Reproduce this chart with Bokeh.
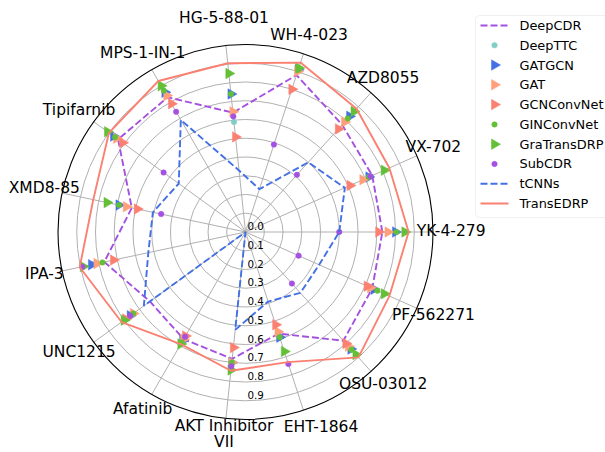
import math
from bokeh.plotting import figure
from bokeh.models import Range1d, BoxAnnotation
from bokeh.core.properties import value
from bokeh.embed import file_html
from bokeh.resources import INLINE

# ---------------- data ----------------
categories = ["YK-4-279", "VX-702", "AZD8055", "WH-4-023", "HG-5-88-01",
              "MPS-1-IN-1", "Tipifarnib", "XMD8-85", "IPA-3", "UNC1215",
              "Afatinib", "AKT Inhibitor\nVII", "EHT-1864", "OSU-03012", "PF-562271"]

deepcdr     = [0.73, 0.74, 0.77, 0.88, 0.64, 0.83, 0.84, 0.62, 0.77, 0.63, 0.66, 0.68, 0.57, 0.78, 0.74]
deepttc     = [0.80, 0.73, 0.82, 0.91, 0.59, 0.85, 0.86, 0.69, 0.83, 0.76, 0.67, 0.71, 0.58, 0.84, 0.75]
gatgcn      = [0.80, 0.72, 0.83, 0.91, 0.74, 0.86, 0.87, 0.69, 0.84, 0.76, 0.67, 0.70, 0.59, 0.84, 0.75]
gat         = [0.76, 0.685, 0.79, 0.90, 0.645, 0.84, 0.85, 0.65, 0.81, 0.74, 0.66, 0.70, 0.56, 0.82, 0.73]
gcnconvnet  = [0.71, 0.61, 0.74, 0.80, 0.51, 0.79, 0.81, 0.59, 0.72, 0.79, 0.64, 0.62, 0.52, 0.80, 0.71]
ginconvnet  = [0.805, 0.72, 0.815, 0.91, 0.74, 0.87, 0.86, 0.69, 0.78, 0.74, 0.68, 0.70, 0.59, 0.845, 0.77]
gratransdrp = [0.85, 0.81, 0.865, 0.92, 0.85, 0.90, 0.91, 0.755, 0.885, 0.80, 0.69, 0.74, 0.67, 0.88, 0.81]
subcdr      = [0.50, 0.73, 0.41, 0.49, 0.62, 0.74, 0.54, 0.46, 0.89, 0.76, 0.645, 0.72, 0.74, 0.37, 0.31]
tcnns       = [0.50, 0.58, 0.50, 0.24, 0.33, 0.69, 0.44, 0.505, 0.53, 0.67, 0.0, 0.525, 0.39, 0.437, 0.43]
transedrp   = [0.87, 0.84, 0.885, 0.95, 0.905, 0.93, 0.90, 0.83, 0.904, 0.817, 0.69, 0.744, 0.73, 0.90, 0.84]

r_ticks = [0.0, 0.1, 0.2, 0.3, 0.4, 0.5, 0.6, 0.7, 0.8, 0.9]
r_max = 1.0

# ---------------- styles ----------------
PURPLE = "#a450e0"
TEAL = "#80cfc6"
BLUE = "#4470e6"
LSALMON = "#ffa07a"
SALMON = "#fa8072"
GREEN = "#62bf36"
GRIDC = "#b0b0b0"
FONT = "DejaVu Sans"

series = [
    ("DeepCDR", deepcdr, "dash", PURPLE),
    ("DeepTTC", deepttc, "dot", TEAL),
    ("GATGCN", gatgcn, "tri", BLUE),
    ("GAT", gat, "tri", LSALMON),
    ("GCNConvNet", gcnconvnet, "tri", SALMON),
    ("GINConvNet", ginconvnet, "dot", GREEN),
    ("GraTransDRP", gratransdrp, "tri", GREEN),
    ("SubCDR", subcdr, "dot", PURPLE),
    ("tCNNs", tcnns, "dash", BLUE),
    ("TransEDRP", transedrp, "solid", SALMON),
]

W, H = 605, 452
S = 187.5            # pixels per radial unit
CX, CY = 245, 231.5  # centre in canvas pixels

p = figure(width=W, height=H, output_backend="svg", toolbar_location=None,
           x_range=Range1d(-CX / S, (W - CX) / S),
           y_range=Range1d(-(H - CY) / S, CY / S),
           x_axis_type=None, y_axis_type=None, min_border=0,
           outline_line_color=None, background_fill_color="white")
p.grid.visible = False

n = len(categories)
angles = [2 * math.pi * i / n for i in range(n)]

# grid rings
ring_r = [t for t in r_ticks if t > 0]
p.circle(x=[0] * len(ring_r), y=[0] * len(ring_r), radius=ring_r,
         fill_color=None, line_color=GRIDC, line_width=1)
# spokes
p.segment(x0=[0] * n, y0=[0] * n,
          x1=[r_max * math.cos(a) for a in angles],
          y1=[r_max * math.sin(a) for a in angles],
          line_color=GRIDC, line_width=1)
# outer circle
p.circle(x=[0], y=[0], radius=[r_max], fill_color=None, line_color="black", line_width=1.1)

# series
for name, vals, kind, col in series:
    xs = [v * math.cos(a) for v, a in zip(vals, angles)]
    ys = [v * math.sin(a) for v, a in zip(vals, angles)]
    if kind in ("dash", "solid"):
        p.line(xs + xs[:1], ys + ys[:1], line_color=col, line_width=1.9,
               line_dash="7 3" if kind == "dash" else "solid")
    elif kind == "tri":
        p.scatter(xs, ys, marker="triangle", size=10.5, angle=-math.pi / 2,
                  fill_color=col, line_color=col, line_width=0.5)
    else:
        p.scatter(xs, ys, marker="circle", size=5.5, fill_color=col, line_color=col, line_width=0.5)

# radial tick labels
p.text(x=[0] * len(r_ticks), y=[-t for t in r_ticks], text=[f"{t:.1f}" for t in r_ticks],
       x_offset=2, y_offset=-6, text_align="left", text_baseline="middle",
       text_font=value(FONT), text_font_size="10.3px", text_color="black")

# category labels (radius 1.097, small pixel nudges for a few labels)
LAB_R = 1.097
nudge = {"HG-5-88-01": (0, -9.5), "EHT-1864": (12, -1), "AKT Inhibitor\nVII": (0, -2.5)}
p.text(x=[LAB_R * math.cos(a) for a in angles],
       y=[LAB_R * math.sin(a) for a in angles],
       x_offset=[nudge.get(c, (0, -1))[0] for c in categories],
       y_offset=[nudge.get(c, (0, -1))[1] for c in categories],
       text=categories, text_align="center", text_baseline="middle",
       text_line_height=0.86,
       text_font=value(FONT), text_font_size="15.5px", text_color="black")

# ---------------- legend (manual) ----------------
def px2x(xr):
    return (xr - CX) / S

def px2y(yr):
    return (CY - yr) / S

box = BoxAnnotation(left=px2x(475), right=px2x(680), top=px2y(15), bottom=px2y(217),
                    fill_color="white", fill_alpha=0.8, line_color="#cccccc",
                    line_width=1, border_radius=4, level="underlay")
p.add_layout(box)

row_y = [px2y(25 + 19.78 * i) for i in range(len(series))]
gx0, gx1, gxm, tx = px2x(480), px2x(508), px2x(494), px2x(519)
for (name, vals, kind, col), yy in zip(series, row_y):
    if kind in ("dash", "solid"):
        p.segment(x0=[gx0], y0=[yy], x1=[gx1], y1=[yy], line_color=col, line_width=1.9,
                  line_dash="7 3" if kind == "dash" else "solid")
    elif kind == "tri":
        p.scatter([gxm], [yy], marker="triangle", size=10.5, angle=-math.pi / 2,
                  fill_color=col, line_color=col, line_width=0.5)
    else:
        p.scatter([gxm], [yy], marker="circle", size=5.5, fill_color=col, line_color=col, line_width=0.5)

p.text(x=[tx] * len(series), y=row_y, text=[s[0] for s in series],
       text_align="left", text_baseline="middle",
       text_font=value(FONT), text_font_size="12.9px", text_color="black")

open("out.html", "w").write(file_html(p, INLINE))
